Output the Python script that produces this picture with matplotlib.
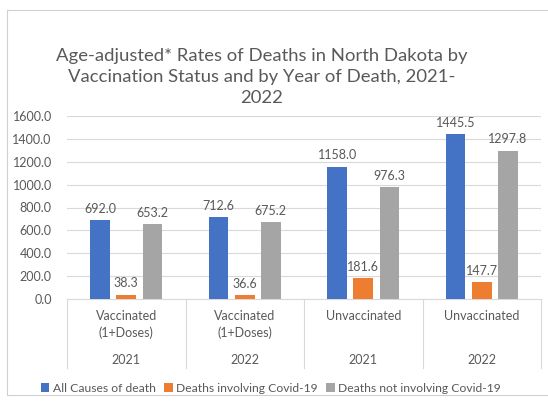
import matplotlib
matplotlib.use('agg')

import matplotlib.pyplot as plt
import matplotlib.transforms as mtransforms
from matplotlib.patches import Rectangle
import numpy as np

plt.rcParams['font.family'] = ['Lato', 'DejaVu Sans']

status = ["Vaccinated\n(1+Doses)", "Vaccinated\n(1+Doses)", "Unvaccinated", "Unvaccinated"]
years = ["2021", "2022", "2021", "2022"]
series_names = ["All Causes of death", "Deaths involving Covid-19", "Deaths not involving Covid-19"]
all_causes = [692.0, 712.6, 1158.0, 1445.5]
covid = [38.3, 36.6, 181.6, 147.7]
not_covid = [653.2, 675.2, 976.3, 1297.8]
yticks = [0, 200, 400, 600, 800, 1000, 1200, 1400, 1600]

colors = ['#4472C4', '#ED7D31', '#A5A5A5']
text_gray = '#595959'
line_gray = '#D9D9D9'

W, H = 548, 405
fig = plt.figure(figsize=(W / 100, H / 100), dpi=100)

# outer chart frame
fig.patches.append(Rectangle((7 / W, 10 / H), 1.2, (395 - 10) / H, transform=fig.transFigure,
                             fill=False, edgecolor='#D0D0D0', linewidth=0.8))

ax = fig.add_axes([67 / W, 1 - 299 / H, (541 - 67) / W, (299 - 116) / H])

x = np.arange(len(years))
width = 0.165
step = 0.22
for i, (vals, name) in enumerate(zip([all_causes, covid, not_covid], series_names)):
    pos = x + (i - 1) * step
    bars = ax.bar(pos, vals, width, color=colors[i], label=name, zorder=3)
    for b, v in zip(bars, vals):
        ax.text(b.get_x() + b.get_width() / 2, v + 45, f"{v:.1f}", ha='center', va='bottom',
                fontsize=9, color=text_gray, zorder=4)

ax.set_xlim(-0.5, len(years) - 0.5)
ax.set_ylim(0, 1600)
ax.set_yticks(yticks)
ax.set_yticklabels([f"{t:.1f}" for t in yticks], fontsize=9, color=text_gray)
ax.tick_params(axis='y', length=0, pad=11)
ax.set_xticks([])
ax.grid(axis='y', color=line_gray, linewidth=0.8, zorder=0)
for s in ['top', 'right', 'left']:
    ax.spines[s].set_visible(False)
ax.spines['bottom'].set_color(line_gray)
ax.spines['bottom'].set_linewidth(0.8)

# two-level category axis
trans = mtransforms.blended_transform_factory(ax.transData, fig.transFigure)
y_axis = 1 - 299 / H
y_sep_end = 1 - 368 / H
for edge in np.arange(len(years) + 1) - 0.5:
    ax.plot([edge, edge], [y_axis, y_sep_end], transform=trans, color=line_gray,
            linewidth=0.8, clip_on=False)
for xi, (s, yr) in enumerate(zip(status, years)):
    ax.text(xi, 1 - 310 / H, s, transform=trans, ha='center', va='top', fontsize=9,
            color=text_gray, linespacing=1.45)
    ax.text(xi, 1 - 360 / H, yr, transform=trans, ha='center', va='center', fontsize=9,
            color=text_gray)

fig.text(262 / W, 1 - 77 / H,
         "Age-adjusted* Rates of Deaths in North Dakota by\nVaccination Status and by Year of Death, 2021-\n2022",
         ha='center', va='center', fontsize=13.3, color=text_gray, linespacing=1.35)

fig.legend(loc='center', bbox_to_anchor=(271 / W, 1 - 388 / H), ncol=3, frameon=False,
           fontsize=8.7, labelcolor=text_gray, handlelength=0.7, handleheight=0.7,
           handletextpad=0.3, columnspacing=0.7)

fig.savefig('out.png', dpi=100)
